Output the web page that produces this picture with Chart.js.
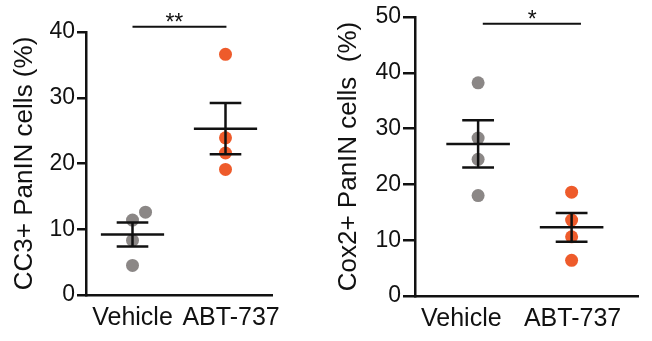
<!DOCTYPE html>
<html>
<head>
<meta charset="utf-8">
<script src="https://cdn.jsdelivr.net/npm/chart.js@4.4.1/dist/chart.umd.min.js"></script>
<style>
  body { margin: 0; background: #fff; }
  .panel { position: absolute; top: 0; width: 326px; height: 341px; }
</style>
</head>
<body>
<div class="panel" style="left:0"><canvas id="chartCC3"></canvas></div>
<div class="panel" style="left:326px"><canvas id="chartCox2"></canvas></div>
<script>
// data (% positive PanIN cells, one dot per mouse)
const groups = ['Vehicle', 'ABT-737'];
const cc3Vehicle = [12.6, 11.4, 8.3, 4.5];
const cc3Abt = [36.6, 23.9, 21.6, 19.1];
const cox2Vehicle = [38.2, 28.3, 24.5, 18.0];
const cox2Abt = [18.6, 13.6, 10.6, 6.4];
const cc3Ticks = [0, 10, 20, 30, 40];
const cox2Ticks = [0, 10, 20, 30, 40, 50];
const cc3Sig = '**';
const cox2Sig = '*';

const GREY = '#8b8786';
const ORANGE = '#ee5b2b';
const FONT = '"Liberation Sans", Arial, sans-serif';

Chart.defaults.font.family = FONT;
Chart.defaults.color = '#111';

function meanSem(v) {
    const m = v.reduce((a, b) => a + b, 0) / v.length;
    const sd = Math.sqrt(v.reduce((a, b) => a + (b - m) ** 2, 0) / (v.length - 1));
    return [m, sd / Math.sqrt(v.length)];
}

function seg(x0, y0, x1, y1, width) {
    return {
        type: 'line',
        data: [{x: x0, y: y0}, {x: x1, y: y1}],
        borderColor: '#111',
        borderWidth: width,
        pointRadius: 0,
        order: 0,
        clip: false
    };
}

// stars above the significance bar
const sigPlugin = {
    id: 'sigStars',
    afterDatasetsDraw(chart, args, opts) {
        const {ctx, scales: {x, y}} = chart;
        ctx.save();
        ctx.font = '23px ' + FONT;
        ctx.fillStyle = '#111';
        ctx.textAlign = 'center';
        ctx.textBaseline = 'alphabetic';
        ctx.fillText(opts.text, x.getPixelForValue(opts.at), y.getPixelForValue(opts.y) + opts.dy);
        ctx.restore();
    }
};

function makeChart(id, cfg) {
    const ds = [];
    const cols = [GREY, ORANGE];
    cfg.series.forEach((vals, g) => {
        const xc = g + 1;
        const [m, s] = meanSem(vals);
        ds.push(seg(xc - 0.34, m, xc + 0.34, m, 2.5));
        ds.push(seg(xc - 0.17, m + s, xc + 0.17, m + s, 2.5));
        ds.push(seg(xc - 0.17, m - s, xc + 0.17, m - s, 2.5));
        ds.push(seg(xc, m - s, xc, m + s, 2.5));
        ds.push({
            type: 'scatter',
            data: vals.map((v, i) => ({x: xc + (cfg.jitter[g][i] || 0), y: v})),
            backgroundColor: cols[g],
            borderWidth: 0,
            pointRadius: 6.5,
            order: 1
        });
    });
    ds.push(seg(cfg.sig.from, cfg.sig.y, cfg.sig.to, cfg.sig.y, 2));

    return new Chart(document.getElementById(id), {
        type: 'scatter',
        data: {datasets: ds},
        plugins: [sigPlugin],
        options: {
            responsive: true,
            maintainAspectRatio: false,
            animation: false,
            events: [],
            layout: {padding: {top: cfg.top, right: cfg.right, bottom: 0, left: 0}},
            plugins: {
                legend: {display: false},
                tooltip: {enabled: false},
                sigStars: {text: cfg.sig.text, at: cfg.sig.at, y: cfg.sig.y, dy: cfg.sig.dy}
            },
            scales: {
                x: {
                    type: 'linear',
                    min: cfg.xmin,
                    max: cfg.xmax,
                    afterBuildTicks: sc => { sc.ticks = cfg.labelAt.map(v => ({value: v})); },
                    afterFit: sc => { sc.height = cfg.xHeight; },
                    ticks: {
                        autoSkip: false,
                        maxRotation: 0,
                        padding: 8,
                        font: {size: 25},
                        callback: (v, i) => groups[i]
                    },
                    grid: {display: false, drawTicks: false},
                    border: {display: true, color: '#111', width: 2.5}
                },
                y: {
                    min: 0,
                    max: cfg.ticks[cfg.ticks.length - 1],
                    afterBuildTicks: sc => { sc.ticks = cfg.ticks.map(v => ({value: v})); },
                    afterFit: sc => { sc.width = cfg.yWidth; },
                    ticks: {padding: 2, font: {size: 23}},
                    grid: {drawOnChartArea: false, drawTicks: true, tickLength: cfg.tickLen, color: '#111', lineWidth: 2.5},
                    border: {display: true, color: '#111', width: 2.5},
                    title: {
                        display: true,
                        text: cfg.title,
                        font: {size: 26},
                        color: '#111',
                        padding: {top: cfg.titlePad, bottom: 0}
                    }
                }
            }
        }
    });
}

makeChart('chartCC3', {
    series: [cc3Vehicle, cc3Abt],
    jitter: [[0.14, 0, 0, 0], [0, 0, 0, 0]],
    ticks: cc3Ticks,
    title: 'CC3+ PanIN cells (%)',
    xmin: 0.5, xmax: 2.5,
    labelAt: [1.0, 2.06],
    top: 32, right: 54, yWidth: 86, xHeight: 46, tickLen: 9, titlePad: 9,
    sig: {text: cc3Sig, from: 1.0, to: 2.01, y: 40.8, at: 1.45, dy: 3}
});

makeChart('chartCox2', {
    series: [cox2Vehicle, cox2Abt],
    jitter: [[0, 0, 0, 0], [0, 0, 0, 0]],
    ticks: cox2Ticks,
    title: 'Cox2+ PanIN cells  (%)',
    xmin: 0.325, xmax: 2.71,
    labelAt: [0.82, 2.01],
    top: 17, right: 14, yWidth: 89, xHeight: 45, tickLen: 12, titlePad: 7,
    sig: {text: cox2Sig, from: 1.05, to: 2.1, y: 48.8, at: 1.58, dy: 3}
});
</script>
</body>
</html>
